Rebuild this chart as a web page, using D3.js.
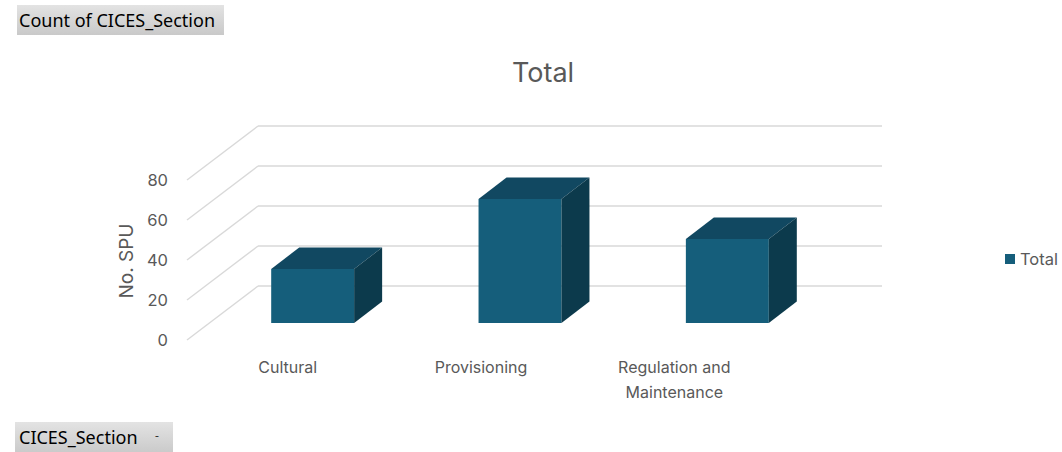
<!DOCTYPE html>
<html>
<head>
<meta charset="utf-8">
<script src="https://cdn.jsdelivr.net/npm/d3@7"></script>
<style>
  html, body { margin: 0; padding: 0; background: #fff; }
  svg { display: block; }
</style>
</head>
<body>
<svg id="chart" width="1062" height="452"></svg>
<script>
// Pivot chart: count of CICES sections
const categories = ["Cultural", "Provisioning", "Regulation and Maintenance"];
const categoryLines = [["Cultural"], ["Provisioning"], ["Regulation and", "Maintenance"]];
const totals = [27, 62, 42];
const yTicks = [0, 20, 40, 60, 80];
const seriesName = "Total";

const svg = d3.select("#chart");

const labelFont = "Inter, 'Open Sans', 'Noto Sans', sans-serif";
const uiFont = "'Noto Sans', 'Open Sans', sans-serif";
const textGrey = "#595959";

// colours of the box faces
const frontCol = "#155e7b";
const topCol = "#114861";
const sideCol = "#0c3a4c";
const gridCol = "#d9d9d9";

// oblique projection: full floor depth and bar depth
const floorDx = 71, floorDy = -54;
const barDx = 28, barDy = -21.5;
const barOffY = -17;   // where the bar front sits within the floor depth

// vertical scales on the front edge of the side wall, the back wall and the bar fronts
const yFront = d3.scaleLinear().domain([0, 80]).range([340, 180]);
const yBack = d3.scaleLinear().domain([0, 80]).range([340 + floorDy, 180 + floorDy]);
const yBar = d3.scaleLinear().domain([0, 80]).range([340 + barOffY, 180 + barOffY]);

const wallLeft = 187, wallRight = 882;

// band scales: bars (at their depth) and labels (front edge)
const xBar = d3.scaleBand().domain(categories).range([209, 831]).paddingInner(0.6).paddingOuter(0.3);
const xLabel = d3.scaleBand().domain(categories).range([191, 771]);

// gridlines: side wall diagonals and back wall horizontals
const grid = svg.append("g").attr("stroke", gridCol).attr("stroke-width", 1.4).attr("fill", "none");
grid.selectAll("line.side").data(yTicks).join("line")
  .attr("class", "side")
  .attr("x1", wallLeft).attr("y1", d => yFront(d))
  .attr("x2", wallLeft + floorDx).attr("y2", d => yBack(d));
grid.selectAll("line.back").data(yTicks).join("line")
  .attr("class", "back")
  .attr("x1", wallLeft + floorDx).attr("y1", d => yBack(d))
  .attr("x2", wallRight).attr("y2", d => yBack(d));

// y axis tick labels
svg.append("g").selectAll("text").data(yTicks).join("text")
  .attr("x", 168).attr("y", d => yFront(d))
  .attr("dy", "0.35em")
  .attr("text-anchor", "end")
  .attr("font-family", labelFont).attr("font-size", 16.5)
  .attr("fill", textGrey)
  .text(d => d);

// y axis title
svg.append("text")
  .attr("transform", "translate(133,261) rotate(-90)")
  .attr("text-anchor", "middle")
  .attr("font-family", labelFont).attr("font-size", 19)
  .attr("fill", textGrey)
  .text("No. SPU");

// 3D columns
const bars = svg.append("g").selectAll("g").data(categories.map((c, i) => ({ c, v: totals[i] }))).join("g");
bars.each(function (d) {
  const g = d3.select(this);
  const x0 = xBar(d.c), x1 = x0 + xBar.bandwidth();
  const yb = yBar(0), yt = yBar(d.v);
  // front face
  g.append("rect").attr("x", x0).attr("y", yt).attr("width", x1 - x0).attr("height", yb - yt).attr("fill", frontCol);
  // top face
  g.append("path").attr("fill", topCol)
    .attr("d", `M${x0},${yt}L${x0 + barDx},${yt + barDy}L${x1 + barDx},${yt + barDy}L${x1},${yt}Z`);
  // right side face
  g.append("path").attr("fill", sideCol)
    .attr("d", `M${x1},${yt}L${x1 + barDx},${yt + barDy}L${x1 + barDx},${yb + barDy}L${x1},${yb}Z`);
});

// category labels
const lab = svg.append("g").selectAll("text").data(categories).join("text")
  .attr("x", d => xLabel(d) + xLabel.bandwidth() / 2)
  .attr("y", 373)
  .attr("text-anchor", "middle")
  .attr("font-family", labelFont).attr("font-size", 16)
  .attr("fill", textGrey);
lab.each(function (d, i) {
  const t = d3.select(this);
  categoryLines[i].forEach((line, j) => {
    t.append("tspan").attr("x", xLabel(d) + xLabel.bandwidth() / 2).attr("dy", j === 0 ? 0 : 25).text(line);
  });
});

// title
svg.append("text")
  .attr("x", 543).attr("y", 82)
  .attr("text-anchor", "middle")
  .attr("font-family", labelFont).attr("font-size", 27)
  .attr("fill", textGrey)
  .text("Total");

// legend
const leg = svg.append("g").attr("transform", "translate(1005,254)");
leg.append("rect").attr("width", 10).attr("height", 10).attr("fill", frontCol);
leg.append("text").attr("x", 15).attr("y", 5).attr("dy", "0.35em")
  .attr("font-family", labelFont).attr("font-size", 16.5).attr("fill", textGrey)
  .text(seriesName);

// pivot field buttons
const defs = svg.append("defs");
const grad = defs.append("linearGradient").attr("id", "btnGrad").attr("x1", 0).attr("y1", 0).attr("x2", 0).attr("y2", 1);
grad.append("stop").attr("offset", "0%").attr("stop-color", "#e3e3e3");
grad.append("stop").attr("offset", "100%").attr("stop-color", "#c9c9c9");

svg.append("rect").attr("x", 17).attr("y", 5).attr("width", 207).attr("height", 30).attr("fill", "url(#btnGrad)");
svg.append("text").attr("x", 19).attr("y", 27)
  .attr("font-family", uiFont).attr("font-size", 18).attr("fill", "#000")
  .text("Count of CICES_Section");

svg.append("rect").attr("x", 15).attr("y", 422).attr("width", 158).attr("height", 32).attr("fill", "url(#btnGrad)");
svg.append("text").attr("x", 19).attr("y", 444)
  .attr("font-family", uiFont).attr("font-size", 18).attr("fill", "#000")
  .text("CICES_Section");
svg.append("text").attr("x", 157).attr("y", 440)
  .attr("text-anchor", "middle")
  .attr("font-family", uiFont).attr("font-size", 12).attr("fill", "#333")
  .text("-");
</script>
</body>
</html>
